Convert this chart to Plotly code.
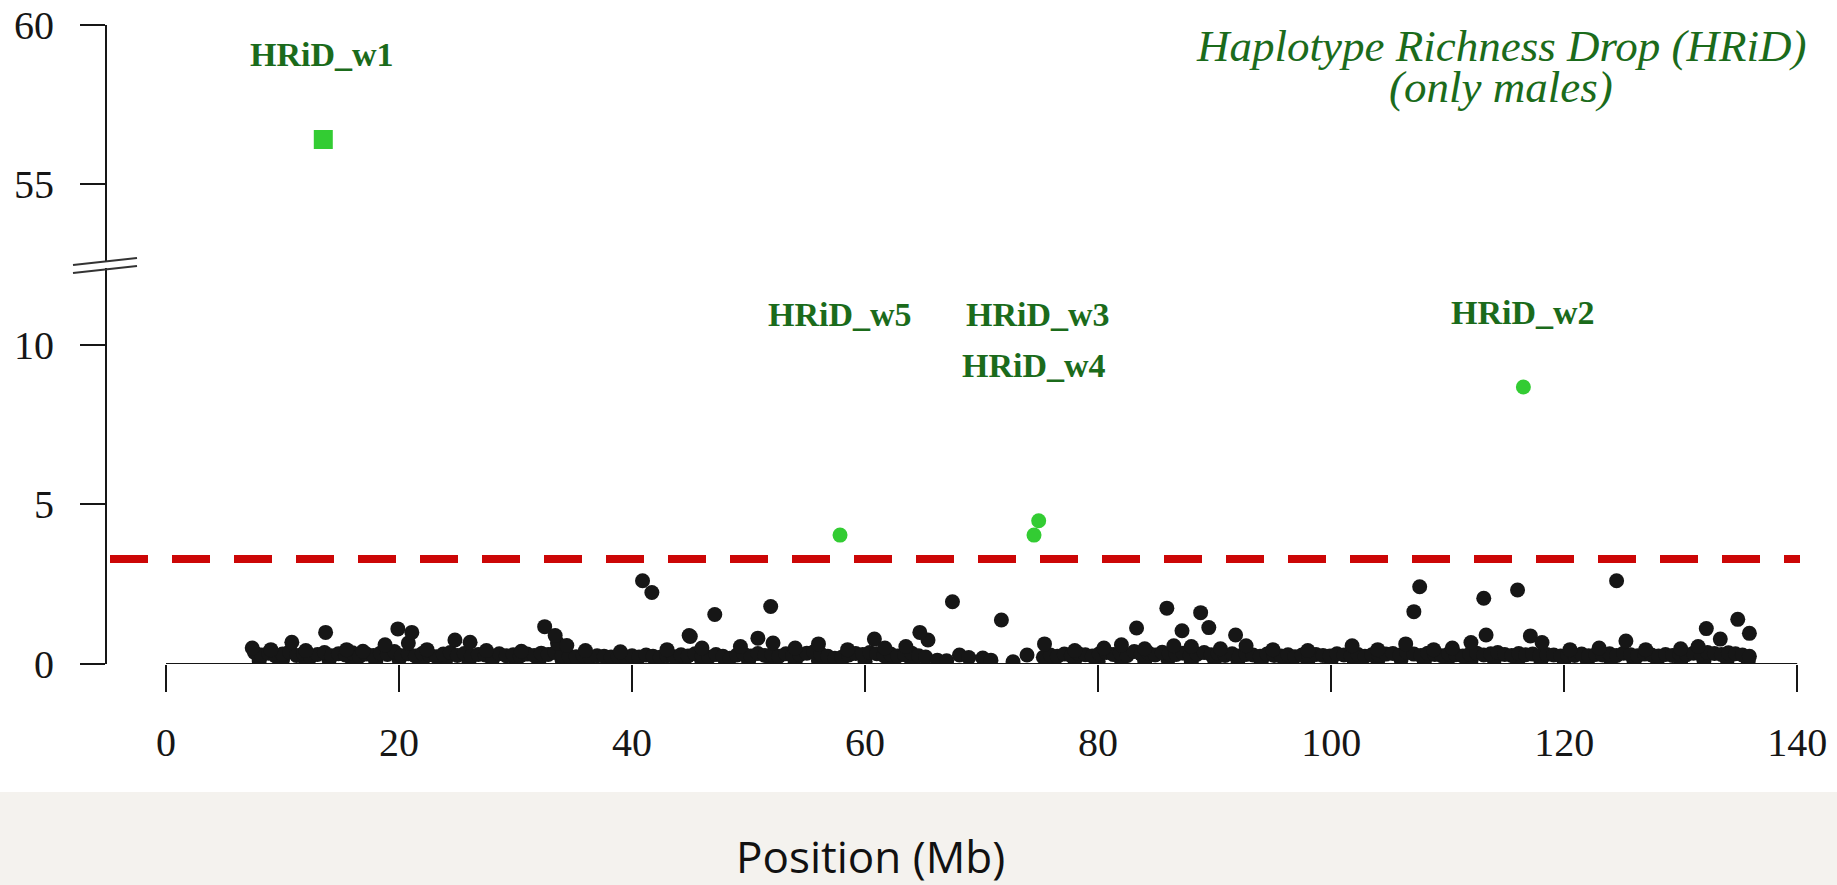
import plotly.graph_objects as go

# ---------------- data ----------------
# dense background band of windows (Mb, HRiD score)
band_pos = [7.6, 8.2, 8.8, 9.4, 10.0, 10.6, 11.2, 11.8, 12.4, 13.0, 13.6, 14.2, 14.8, 15.4, 16.0, 16.6, 17.2, 17.8, 18.4, 19.0,
            19.6, 20.2, 20.8, 21.4, 22.0, 22.6, 23.2, 23.8, 24.4, 25.0, 25.6, 26.2, 26.8, 27.4, 28.0, 28.6, 29.2, 29.8, 30.4, 31.0,
            31.6, 32.2, 32.8, 33.4, 34.0, 34.6, 35.2, 35.8, 36.4, 37.0, 37.6, 38.2, 38.8, 39.4, 40.0, 40.6, 41.2, 41.8, 42.4, 43.0,
            43.6, 44.2, 44.8, 45.4, 46.0, 46.6, 47.2, 47.8, 48.4, 49.0, 49.6, 50.2, 50.8, 51.4, 52.0, 52.6, 53.2, 53.8, 54.4, 55.0,
            55.6, 56.2, 56.8, 57.4, 58.0, 58.6, 59.2, 59.8, 60.4, 61.0, 61.6, 62.2, 62.8, 63.4, 64.0, 64.6, 65.2,
            66.2, 67.0, 68.1, 68.9, 70.1, 70.8, 72.7, 73.9,
            75.3, 75.9, 76.5, 77.1, 77.7, 78.3, 78.9, 79.5, 80.1, 80.7, 81.3, 81.9, 82.5, 83.1, 83.7, 84.3, 84.9, 85.5, 86.1, 86.7,
            87.3, 87.9, 88.5, 89.1, 89.7, 90.3, 90.9, 91.5, 92.1, 92.7, 93.3, 93.9, 94.5, 95.1, 95.7, 96.3, 96.9, 97.5, 98.1, 98.7,
            99.3, 99.9, 100.5, 101.1, 101.7, 102.3, 102.9, 103.5, 104.1, 104.7, 105.3, 105.9, 106.5, 107.1, 107.7, 108.3, 108.9,
            109.5, 110.1, 110.7, 111.3, 111.9, 112.5, 113.1, 113.7, 114.3, 114.9, 115.5, 116.1, 116.7, 117.3, 117.9, 118.5, 119.1,
            119.7, 120.3, 120.9, 121.5, 122.1, 122.7, 123.3, 123.9, 124.5, 125.1, 125.7, 126.3, 126.9, 127.5, 128.1, 128.7, 129.3,
            129.9, 130.5, 131.1, 131.7, 132.3, 132.9, 133.5, 134.1, 134.7, 135.3, 135.9]
band_val = [0.36, 0.28, 0.34, 0.25, 0.31, 0.38, 0.27, 0.33, 0.22, 0.30,
            0.36, 0.26, 0.32, 0.28, 0.35, 0.24, 0.31, 0.27, 0.34, 0.30,
            0.39, 0.26, 0.32, 0.25, 0.33, 0.29, 0.23, 0.31, 0.36, 0.27,
            0.33, 0.25, 0.30, 0.28, 0.24, 0.32, 0.26, 0.29, 0.25, 0.31,
            0.27, 0.34, 0.30, 0.36, 0.28, 0.25, 0.23, 0.27, 0.22, 0.26,
            0.24, 0.22, 0.25, 0.23, 0.26, 0.22, 0.28, 0.24, 0.21, 0.26,
            0.23, 0.29, 0.25, 0.32, 0.27, 0.21, 0.30, 0.24, 0.18, 0.28,
            0.31, 0.25, 0.33, 0.27, 0.30, 0.24, 0.32, 0.26, 0.29, 0.34,
            0.38, 0.31, 0.24, 0.18, 0.21, 0.28, 0.33, 0.30, 0.36, 0.32,
            0.27, 0.31, 0.25, 0.29, 0.34, 0.26, 0.22,
            0.12, 0.10, 0.28, 0.20, 0.19, 0.12, 0.07, 0.28,
            0.21, 0.28, 0.24, 0.31, 0.26, 0.33, 0.29, 0.25, 0.32, 0.36,
            0.30, 0.34, 0.27, 0.39, 0.31, 0.35, 0.28, 0.37, 0.32, 0.30,
            0.34, 0.26, 0.31, 0.36, 0.29, 0.33, 0.27, 0.32, 0.25, 0.30,
            0.28, 0.24, 0.31, 0.27, 0.25, 0.29, 0.23, 0.28, 0.26, 0.30,
            0.27, 0.25, 0.32, 0.28, 0.26, 0.30, 0.24, 0.29, 0.27, 0.31,
            0.33, 0.28, 0.36, 0.31, 0.27, 0.34, 0.30, 0.26, 0.32, 0.29,
            0.25, 0.31, 0.34, 0.28, 0.32, 0.36, 0.30, 0.27, 0.33, 0.29,
            0.31, 0.26, 0.30, 0.28, 0.25, 0.29, 0.27, 0.31, 0.26, 0.30,
            0.28, 0.32, 0.27, 0.34, 0.29, 0.26, 0.31, 0.28, 0.25, 0.30,
            0.27, 0.32, 0.29, 0.34, 0.31, 0.36, 0.33, 0.30, 0.35, 0.32,
            0.28, 0.24]

# lowest windows, hugging the axis
low_pos = [8.0, 10.0, 12.0, 14.0, 16.0, 18.0, 20.0, 22.0, 24.0, 26.0, 28.0, 30.0, 32.0, 34.0, 36.0, 38.0, 40.0, 42.0,
           44.0, 46.0, 48.0, 50.0, 52.0, 54.0, 56.0, 58.0, 60.0, 62.0, 64.0,
           76.0, 78.0, 80.0, 82.0, 84.0, 86.0, 88.0, 90.0, 92.0, 94.0, 96.0, 98.0, 100.0, 102.0, 104.0, 106.0, 108.0,
           110.0, 112.0, 114.0, 116.0, 118.0, 120.0, 122.0, 124.0, 126.0, 128.0, 130.0, 132.0, 134.0, 135.8]
low_val = [0.10, 0.13, 0.08, 0.12, 0.11, 0.09, 0.14, 0.10, 0.12, 0.08,
           0.13, 0.11, 0.09, 0.12, 0.10, 0.14, 0.08, 0.11, 0.13, 0.09,
           0.12, 0.10, 0.14, 0.08, 0.11, 0.13, 0.09, 0.12, 0.10,
           0.11, 0.13, 0.09, 0.12, 0.10, 0.14, 0.08, 0.12, 0.11, 0.09,
           0.13, 0.10, 0.12, 0.08, 0.11, 0.14, 0.09, 0.12, 0.10, 0.13,
           0.08, 0.11, 0.12, 0.10, 0.14, 0.09, 0.12, 0.10, 0.11, 0.13, 0.10]

# windows standing out of the band (still below threshold)
peak_pos = [7.4, 9.0, 10.8, 12.0, 15.5, 16.9, 18.8, 20.8, 22.4, 24.8, 26.1, 27.5, 30.5, 33.6, 34.4, 36.0, 39.0, 43.0, 45.0,
            46.0, 49.3, 50.8, 52.1, 54.0, 56.0, 58.5, 60.8, 61.7, 63.5, 65.4, 75.4, 78.0, 80.5, 82.0, 84.0, 86.5, 88.0, 90.5,
            92.7, 95.0, 98.0, 101.8, 104.0, 106.4, 108.8, 110.4, 112.0, 113.3, 117.1, 118.1, 120.5, 123.0, 125.3, 127.0,
            130.0, 131.5, 133.4, 135.9,
            13.7, 19.9, 21.1, 32.5, 33.4, 40.9, 41.7, 44.9, 47.1, 51.9, 64.7, 67.5, 71.7, 83.3, 85.9, 87.2, 88.8, 89.5,
            91.8, 107.1, 107.6, 113.1, 116.0, 124.5, 132.2, 134.9]
peak_val = [0.50, 0.45, 0.68, 0.42, 0.45, 0.40, 0.60, 0.66, 0.45, 0.75, 0.68, 0.42, 0.40, 0.66, 0.58, 0.42, 0.38, 0.45, 0.86,
            0.50, 0.55, 0.81, 0.66, 0.50, 0.63, 0.45, 0.78, 0.50, 0.55, 0.75, 0.63, 0.42, 0.50, 0.60, 0.48, 0.57, 0.55, 0.48,
            0.57, 0.45, 0.42, 0.57, 0.45, 0.63, 0.45, 0.50, 0.67, 0.91, 0.88, 0.67, 0.45, 0.50, 0.72, 0.45,
            0.48, 0.55, 0.78, 0.96,
            0.99, 1.10, 0.99, 1.17, 0.89, 2.61, 2.24, 0.89, 1.55, 1.80, 0.99, 1.95, 1.38, 1.13, 1.75, 1.04, 1.61, 1.14,
            0.91, 1.64, 2.42, 2.06, 2.32, 2.61, 1.11, 1.40]

# significant HRiD windows
hrid_names = ["HRiD_w1", "HRiD_w2", "HRiD_w3", "HRiD_w4", "HRiD_w5"]
hrid_pos = [13.5, 116.5, 74.9, 74.5, 57.85]
hrid_val = [56.4, 8.68, 4.49, 4.04, 4.04]

threshold = 3.29
x_ticks = [0, 20, 40, 60, 80, 100, 120, 140]
y_ticks_low = [0, 5, 10]
y_ticks_high = [55, 60]

# ---------------- styling ----------------
SERIF = "Liberation Serif"
DARK_GREEN = "#1b6b1b"
BRIGHT_GREEN = "#33cc33"
INK = "#161616"

fig = go.Figure()

for xs, ys in ((low_pos, low_val), (band_pos, band_val), (peak_pos, peak_val)):
    fig.add_trace(go.Scatter(x=xs, y=ys, mode="markers", xaxis="x", yaxis="y",
                             marker=dict(size=15, color=INK, line=dict(width=0)), hoverinfo="x+y"))

# HRiD_w1 sits on the upper (broken) axis as a square
fig.add_trace(go.Scatter(x=hrid_pos[:1], y=hrid_val[:1], mode="markers", xaxis="x", yaxis="y2",
                         marker=dict(size=19, symbol="square", color=BRIGHT_GREEN, line=dict(width=0)),
                         text=hrid_names[:1], hoverinfo="text+x+y"))
fig.add_trace(go.Scatter(x=hrid_pos[1:], y=hrid_val[1:], mode="markers", xaxis="x", yaxis="y",
                         marker=dict(size=15, color=BRIGHT_GREEN, line=dict(width=0)),
                         text=hrid_names[1:], hoverinfo="text+x+y"))

# geometry helpers (pixel -> paper)
L, R, T, B = 107, 27, 25, 221
W, H = 1837, 885
PW, PH = W - L - R, H - T - B


def px(xp):
    return (xp - L) / PW


def py(yp):
    return (H - B - yp) / PH


shapes = [
    # white figure area on the beige page
    dict(type="rect", xref="paper", yref="paper", x0=px(0), x1=px(W), y0=py(792), y1=py(-5),
         fillcolor="white", line=dict(width=0), layer="below"),
    # x axis line from 0 to 140
    dict(type="line", xref="x", yref="y", x0=x_ticks[0], x1=x_ticks[-1], y0=0, y1=0,
         line=dict(color=INK, width=2)),
    # threshold
    dict(type="line", xref="paper", yref="y", x0=px(110), x1=px(1800), y0=threshold, y1=threshold,
         line=dict(color="#cc0606", width=8, dash="38px,24px")),
    # axis break marks
    dict(type="line", xref="paper", yref="paper", x0=px(73), y0=py(265), x1=px(137), y1=py(258),
         line=dict(color="#333", width=2)),
    dict(type="line", xref="paper", yref="paper", x0=px(73), y0=py(273), x1=px(137), y1=py(266),
         line=dict(color="#333", width=2)),
]

label_place = {
    "HRiD_w1": (13.4, 59.06, "y2"),
    "HRiD_w2": (116.5, 11.0, "y"),
    "HRiD_w3": (74.8, 10.94, "y"),
    "HRiD_w4": (74.5, 9.37, "y"),
    "HRiD_w5": (57.85, 10.94, "y"),
}
annotations = []
for name in hrid_names:
    lx, ly, yr = label_place[name]
    annotations.append(dict(x=lx, y=ly, xref="x", yref=yr, text="<b>" + name + "</b>", showarrow=False,
                            xanchor="center", yanchor="middle",
                            font=dict(family=SERIF, size=34, color=DARK_GREEN)))

annotations.append(dict(x=114.6, y=59.35, xref="x", yref="y2", text="<i>Haplotype Richness Drop (HRiD)</i>",
                        showarrow=False, xanchor="center", yanchor="middle",
                        font=dict(family=SERIF, size=45, color=DARK_GREEN)))
annotations.append(dict(x=114.6, y=58.06, xref="x", yref="y2", text="<i>(only males)</i>",
                        showarrow=False, xanchor="center", yanchor="middle",
                        font=dict(family=SERIF, size=45, color=DARK_GREEN)))
annotations.append(dict(x=px(870), y=py(856), xref="paper", yref="paper", text="Position (Mb)",
                        showarrow=False, xanchor="center", yanchor="middle",
                        font=dict(family="Open Sans", size=44, color="#111")))

axis_common = dict(showgrid=False, zeroline=False, ticks="outside", tickwidth=2, tickcolor=INK,
                   tickfont=dict(family=SERIF, size=40, color=INK))

fig.update_layout(
    width=W, height=H,
    margin=dict(l=L, r=R, t=T, b=B, autoexpand=False),
    paper_bgcolor="#f4f2ee",
    plot_bgcolor="rgba(0,0,0,0)",
    showlegend=False,
    xaxis=dict(range=[-5.064, 141.1], domain=[0, 1], anchor="y", tickvals=x_ticks, showline=False,
               showgrid=False, zeroline=False, ticks="outside", ticklen=27, tickwidth=2, tickcolor=INK,
               ticklabelstandoff=16, tickfont=dict(family=SERIF, size=40, color=INK)),
    yaxis=dict(range=[0, 12.41], domain=[0, py(268)], anchor="x", tickvals=y_ticks_low, showline=True,
               linewidth=2, linecolor=INK, ticklen=25, ticklabelstandoff=18, **axis_common),
    yaxis2=dict(range=[52.58, 60], domain=[py(261), 1], anchor="x", tickvals=y_ticks_high, showline=True,
                linewidth=2, linecolor=INK, ticklen=25, ticklabelstandoff=18, **axis_common),
    shapes=shapes,
    annotations=annotations,
)

fig.write_html("out.html", config={"displayModeBar": False},
               post_script="document.body.style.margin='0';document.body.style.overflow='hidden';")
